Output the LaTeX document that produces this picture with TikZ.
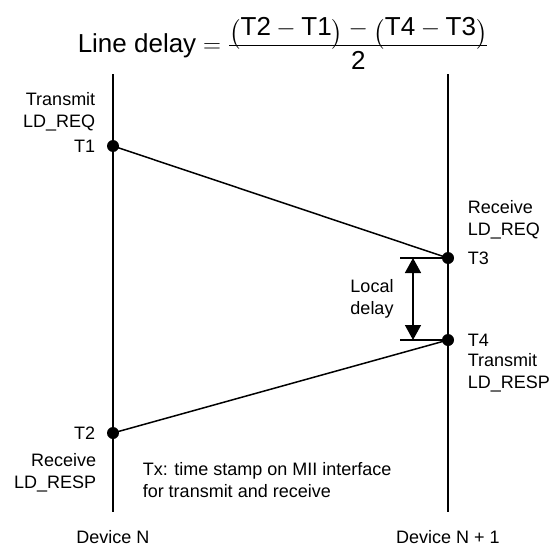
\documentclass[tikz,border=0pt]{standalone}
\usepackage{amsmath}
\usepackage{fontspec}
\setmainfont{Liberation Sans}
\usepackage{tikz}
\usetikzlibrary{arrows.meta,positioning}
\newcommand{\lpar}{\mathopen{\raisebox{-5pt}{$\bigl($}}}
\newcommand{\rpar}{\mathclose{\raisebox{-5pt}{$\bigr)$}}}
\tikzset{
  every picture/.style = {
    x = 1pt,
    y = -1pt,
    line width = 1.5pt,
    >={Triangle[width=16pt,length=15pt]},
  }
  ,
  lifeline/.style = {
    draw,
    line width = 1.6pt
  }
  ,
  stamp/.style = {
    circle,
    fill,
    inner sep = 0pt,
    minimum size = 12pt
  }
  , % labels of time stamps
  label-stamp/.style = {
    font = \fontsize{18}{21.5}\selectfont,
    inner sep = 0pt,
    align = center
  }
  , % device names
  label-device/.style = {
    font = \fontsize{18}{21.5}\selectfont,
    inner sep = 0pt
  }
}

\begin{document}
\begin{tikzpicture}
  \useasboundingbox (0,0) rectangle (549,546);

  % formula
  \node[anchor=base west, inner sep=0pt, font=\fontsize{26}{30}\selectfont] (formula) at (77,52)
    {Line delay$\;=\dfrac{\smash[b]{\lpar\text{T2}-\text{T1}\rpar-\lpar\text{T4}-\text{T3}\rpar}}{\text{2}}$};

  % devices
  \coordinate (n-top) at (113,74);
  \coordinate (n-bot) at (113,512);
  \coordinate (m-top) at (448,74);
  \coordinate (m-bot) at (448,512);
  \path[lifeline] (n-top) -- (n-bot);
  \path[lifeline] (m-top) -- (m-bot);
  \node[label-device] (dev-n) at (113,537) {Device N};
  \node[label-device] (dev-m) at (448,537) {Device N + 1};

  % time stamps
  \node[stamp] (t1) at (113,146) {};
  \node[stamp] (t2) at (113,433) {};
  \node[stamp] (t3) at (448,258) {};
  \node[stamp] (t4) at (448,340) {};

  \node[label-stamp, anchor=east] (t1-l) at (96,146) {T1};
  \node[label-stamp, anchor=east] (t2-l) at (96,433) {T2};
  \node[label-stamp, anchor=west] (t3-l) at (467,258) {T3};
  \node[label-stamp, anchor=west] (t4-l) at (467,340) {T4};

  \node[label-stamp, anchor=east, align=right] (req-tx) at (96,112) {Transmit\\LD\_REQ};
  \node[label-stamp, anchor=west, align=left] (req-rx) at (467,220) {Receive\\LD\_REQ};
  \node[label-stamp, anchor=west, align=left] (resp-tx) at (467,373) {Transmit\\LD\_RESP};
  \node[label-stamp, anchor=east, align=right] (resp-rx) at (97,473) {Receive\\LD\_RESP};

  % messages
  \draw (t1.center) -- (t3.center);
  \draw (t4.center) -- (t2.center);

  % local delay
  \coordinate (d-top) at (400,258);
  \coordinate (d-bot) at (400,340);
  \draw (d-top) -- (t3.center);
  \draw (d-bot) -- (t4.center);
  \coordinate (a-top) at (413,258);
  \coordinate (a-bot) at (413,340);
  \draw[<->] (a-top) -- (a-bot);
  \node[label-stamp] (local) at (372,299) {Local\\delay};

  \node[label-stamp, anchor=west, align=left] (note) at (142,480)
    {Tx: time stamp on MII interface\\for transmit and receive};
\end{tikzpicture}
\end{document}
